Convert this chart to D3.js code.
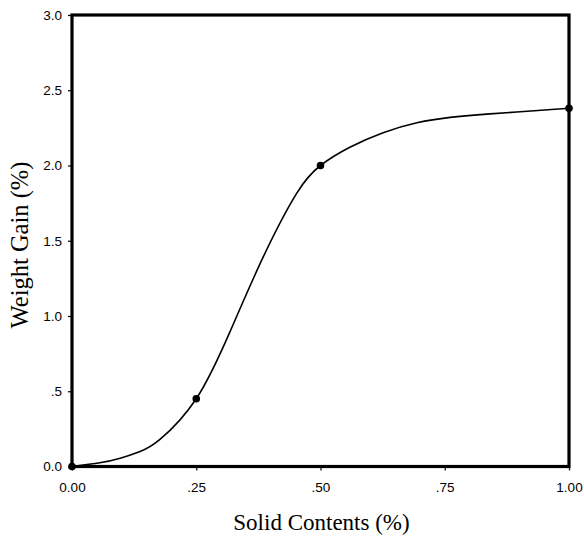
<!DOCTYPE html>
<html>
<head>
<meta charset="utf-8">
<script src="https://cdn.jsdelivr.net/npm/d3@7"></script>
<style>
  html, body { margin: 0; padding: 0; background: #fff; }
  svg { display: block; }
  .tick-label { font-family: "Liberation Sans", Arial, sans-serif; font-size: 13.5px; }
  .title { font-family: "Liberation Serif", "Times New Roman", serif; }
</style>
</head>
<body>
<svg id="chart" width="584" height="540"></svg>
<script>
// Measured data points (markers)
const markerX = [0, 0.25, 0.5, 1.0];
const markerY = [0, 0.45, 2.0, 2.38];

// Smooth fitted curve
const curveX = [0, 0.056, 0.097, 0.137, 0.177, 0.25, 0.318, 0.385, 0.452, 0.5, 0.559, 0.626, 0.694, 0.761, 0.828, 0.895, 1.0];
const curveY = [0, 0.025, 0.055, 0.1, 0.18, 0.45, 0.896, 1.394, 1.815, 2.0, 2.121, 2.218, 2.284, 2.320, 2.340, 2.355, 2.38];

// Tick values and labels
const xTicks = [0, 0.25, 0.5, 0.75, 1.0];
const xTickLabels = ["0.00", ".25", ".50", ".75", "1.00"];
const yTicks = [0, 0.5, 1.0, 1.5, 2.0, 2.5, 3.0];
const yTickLabels = ["0.0", ".5", "1.0", "1.5", "2.0", "2.5", "3.0"];

const xTitle = "Solid Contents (%)";
const yTitle = "Weight Gain (%)";

const svg = d3.select("#chart");
const M = { left: 72, right: 569, top: 15, bottom: 466.5 };

const x = d3.scaleLinear().domain([0, 1]).range([M.left, M.right]);
const y = d3.scaleLinear().domain([0, 3]).range([M.bottom, M.top]);

// Axes
const xAxis = svg.append("g")
  .attr("transform", `translate(0,${M.bottom})`)
  .call(d3.axisBottom(x).tickValues(xTicks).tickFormat((d, i) => xTickLabels[i]).tickSize(4).tickPadding(12));
const yAxis = svg.append("g")
  .attr("transform", `translate(${M.left},0)`)
  .call(d3.axisLeft(y).tickValues(yTicks).tickFormat((d, i) => yTickLabels[i]).tickSize(4).tickPadding(6));

[xAxis, yAxis].forEach(g => {
  g.attr("font-family", null).attr("font-size", null);
  g.select(".domain").remove();
  g.selectAll(".tick line").attr("stroke", "#000").attr("stroke-width", 1.2);
  g.selectAll(".tick text")
    .attr("fill", "#000")
    .attr("class", "tick-label");
});

// Frame box
svg.append("rect")
  .attr("x", M.left).attr("y", M.top)
  .attr("width", M.right - M.left).attr("height", M.bottom - M.top)
  .attr("fill", "none").attr("stroke", "#000").attr("stroke-width", 3.2);

// Curve
const pts = curveX.map((d, i) => [d, curveY[i]]);
svg.append("path")
  .datum(pts)
  .attr("fill", "none")
  .attr("stroke", "#000")
  .attr("stroke-width", 1.6)
  .attr("d", d3.line().x(d => x(d[0])).y(d => y(d[1])).curve(d3.curveNatural));

// Markers
svg.append("g").selectAll("circle")
  .data(markerX.map((d, i) => [d, markerY[i]]))
  .join("circle")
  .attr("cx", d => x(d[0]))
  .attr("cy", d => y(d[1]))
  .attr("r", 3.8)
  .attr("fill", "#000");

// Titles
svg.append("text")
  .attr("class", "title")
  .style("font-size", "23px")
  .attr("x", (M.left + M.right) / 2 + 1)
  .attr("y", 530)
  .attr("text-anchor", "middle")
  .attr("fill", "#000")
  .text(xTitle);

svg.append("text")
  .attr("class", "title")
  .style("font-size", "24.5px")
  .attr("transform", `translate(28,245) rotate(-90)`)
  .attr("text-anchor", "middle")
  .attr("fill", "#000")
  .text(yTitle);
</script>
</body>
</html>
